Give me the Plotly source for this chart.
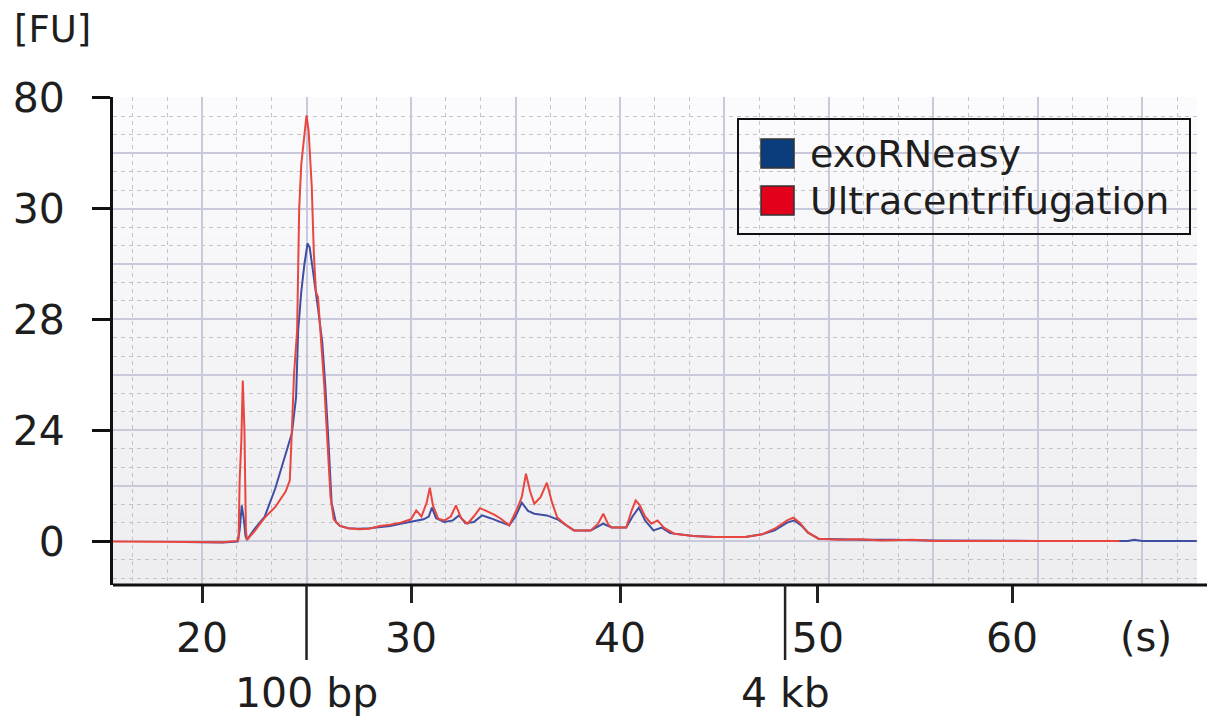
import plotly.graph_objects as go

# ---------------- data ----------------
series_names = ["exoRNeasy", "Ultracentrifugation"]

# migration time (s) and signal (plot units, 20 units per labelled tick)
blue_t = [19.2, 20.0, 21.0, 21.7, 21.8, 21.9, 22.0, 22.08, 22.15, 22.5, 23.0, 23.5, 24.0,
          24.3, 24.5, 24.6, 24.75, 24.9, 25.05, 25.15, 25.3, 25.45, 25.55, 25.75, 25.9,
          26.05, 26.2, 26.4, 26.6, 27.0, 27.5, 28.0, 28.5, 29.0, 29.5, 30.0, 30.3, 30.6,
          30.85, 31.0, 31.2, 31.6, 32.0, 32.3, 32.6, 33.0, 33.4, 33.8, 34.3, 34.7, 35.0,
          35.3, 35.6, 35.9, 36.5, 37.0, 37.4, 37.8, 38.6, 39.2, 39.6, 40.3, 40.6, 40.9,
          41.2, 41.6, 42.0, 42.4, 43.5, 44.5, 46.0, 46.8, 47.4, 48.0, 48.35, 48.7, 49.0,
          49.5, 50.5, 51.5, 53.0, 55.0, 60.0, 64.3, 64.6, 65.0, 67.6]
blue_v = [-0.1, -0.2, -0.2, 0.0, 2.0, 6.5, 4.0, 1.0, 0.3, 2.2, 4.5, 9.5, 15.5,
          19.5, 26.0, 38.0, 45.0, 50.0, 53.7, 53.0, 49.0, 45.3, 42.0, 36.0, 28.0,
          18.0, 7.0, 3.5, 2.8, 2.4, 2.3, 2.4, 2.6, 2.8, 3.2, 3.5, 3.8, 4.0,
          4.5, 6.1, 4.2, 3.5, 3.8, 4.7, 3.3, 3.5, 4.7, 4.2, 3.4, 2.9, 4.5,
          7.0, 5.5, 5.0, 4.7, 4.0, 3.0, 2.0, 2.0, 3.2, 2.5, 2.5, 4.5, 6.1,
          3.8, 2.0, 2.5, 1.5, 1.0, 0.8, 0.8, 1.3, 2.0, 3.4, 3.8, 2.8, 1.6,
          0.5, 0.4, 0.3, 0.3, 0.2, 0.1, 0.1, 0.3, 0.1, 0.1]

red_t = [15.74, 19.0, 19.3, 21.0, 21.7, 21.75, 21.8, 21.88, 21.95, 22.03, 22.1, 22.15,
         22.5, 23.0, 23.5, 24.0, 24.2, 24.3, 24.4, 24.55, 24.65, 24.75, 24.9, 25.0, 25.1,
         25.25, 25.35, 25.45, 25.55, 25.7, 25.85, 26.0, 26.15, 26.3, 26.6, 27.0, 27.5,
         28.0, 28.5, 29.0, 29.5, 30.0, 30.25, 30.5, 30.75, 30.9, 31.05, 31.3, 31.6, 31.9,
         32.15, 32.4, 32.7, 33.0, 33.3, 33.6, 34.0, 34.3, 34.7, 35.1, 35.3, 35.5, 35.7,
         35.9, 36.2, 36.5, 36.75, 37.0, 37.4, 37.8, 38.6, 38.95, 39.2, 39.45, 39.6, 40.3,
         40.55, 40.75, 40.95, 41.2, 41.5, 41.8, 42.1, 42.6, 43.5, 44.5, 46.0, 46.8, 47.4,
         48.0, 48.3, 48.6, 49.0, 49.5, 50.5, 51.5, 52.5, 54.0, 55.0, 57.0, 60.0, 63.9]
red_v = [0.0, 0.0, -0.1, -0.15, 0.1, 0.5, 11.0, 18.0, 29.0, 20.0, 2.0, 0.3,
         1.8, 4.3, 6.2, 9.0, 11.0, 20.0, 30.0, 38.0, 60.0, 68.0, 74.0, 76.8, 74.0,
         64.0, 52.0, 45.0, 44.0, 36.0, 28.0, 18.0, 8.0, 4.0, 2.8, 2.4, 2.2,
         2.3, 2.8, 3.0, 3.4, 4.0, 5.6, 4.5, 7.0, 9.7, 6.5, 4.1, 3.8, 4.5,
         6.5, 4.2, 3.2, 4.5, 6.0, 5.5, 4.8, 4.1, 2.9, 6.1, 8.0, 12.2, 9.0,
         6.8, 8.0, 10.6, 7.0, 4.3, 3.0, 2.0, 2.0, 3.2, 5.0, 3.0, 2.5, 2.5,
         5.5, 7.4, 6.5, 4.5, 3.2, 3.8, 2.5, 1.4, 1.0, 0.8, 0.8, 1.3, 2.3,
         3.8, 4.3, 3.4, 1.6, 0.5, 0.3, 0.4, 0.2, 0.3, 0.1, 0.1, 0.1, 0.1]

y_tick_vals = [0, 20, 40, 60, 80]
y_tick_text = ["0", "24", "28", "30", "80"]
x_tick_vals = [20, 30, 40, 49.47, 58.76]
x_tick_text = ["20", "30", "40", "50", "60"]
ladder_pos = [25.0, 47.9]
ladder_text = ["100 bp", "4 kb"]
y_unit = "[FU]"
x_unit = "(s)"

line_colors = ["#3d4ea3", "#e8463f"]
swatch_colors = ["#0b3d7c", "#e2001a"]

# ---------------- layout geometry ----------------
W_FIG, H_FIG = 1212, 722
L, R, T, B = 113, 1197, 97, 585
PW, PH = R - L, B - T
X_RANGE = [15.74, 67.61]
Y_RANGE = [-7.84, 80.09]
FONT = "DejaVu Sans"
TXT = "#1e1e1e"


def pxx(px):
    return (px - L) / PW


def pxy(py):
    return (B - py) / PH


fig = go.Figure()
# blue on the grid subplot, red on the overlaid (labelled) subplot, drawn on top
fig.add_trace(go.Scatter(x=blue_t, y=blue_v, mode="lines", name=series_names[0],
                         line=dict(color=line_colors[0], width=2), showlegend=False,
                         xaxis="x", yaxis="y"))
fig.add_trace(go.Scatter(x=red_t, y=red_v, mode="lines", name=series_names[1],
                         line=dict(color=line_colors[1], width=2), showlegend=False,
                         xaxis="x2", yaxis="y2"))

grid_solid = "#c8cadb"
grid_dash = "#c4c4c8"

shapes = []
n_bands = 14
for i in range(n_bands):
    f = i / (n_bands - 1)
    c0 = (251, 251, 253)
    c1 = (238, 238, 241)
    c = tuple(round(c0[k] + (c1[k] - c0[k]) * f) for k in range(3))
    shapes.append(dict(type="rect", xref="paper", yref="paper", layer="below",
                       x0=0, x1=1, y0=1 - (i + 1) / n_bands, y1=1 - i / n_bands,
                       fillcolor="rgb(%d,%d,%d)" % c, line=dict(width=0)))

shapes.append(dict(type="line", xref="paper", yref="paper", x0=0, x1=pxx(1207),
                   y0=0, y1=0, line=dict(color="#111111", width=3)))
for xp in ladder_pos:
    shapes.append(dict(type="line", xref="x", yref="paper", x0=xp, x1=xp,
                       y0=0, y1=pxy(660), line=dict(color="#222222", width=2.5)))
shapes.append(dict(type="rect", xref="paper", yref="paper",
                   x0=pxx(738), x1=pxx(1190), y0=pxy(234), y1=pxy(119),
                   line=dict(color="#111111", width=2), fillcolor="rgba(0,0,0,0)"))
legend_rows = [(139, 168), (186, 215)]
for (y0, y1), col in zip(legend_rows, swatch_colors):
    shapes.append(dict(type="rect", xref="paper", yref="paper",
                       x0=pxx(761), x1=pxx(794), y0=pxy(y1), y1=pxy(y0),
                       fillcolor=col, line=dict(color="#333333", width=1.5)))

annotations = []
for (y0, y1), name in zip(legend_rows, series_names):
    annotations.append(dict(text=name, xref="paper", yref="paper", x=pxx(808),
                            y=pxy((y0 + y1) / 2), xanchor="left", yanchor="middle",
                            showarrow=False, font=dict(family=FONT, size=38, color=TXT)))
for xp, txt in zip(ladder_pos, ladder_text):
    annotations.append(dict(text=txt, xref="x", yref="paper", x=xp, y=pxy(693),
                            xanchor="center", yanchor="middle", showarrow=False,
                            font=dict(family=FONT, size=41, color=TXT)))
annotations.append(dict(text=y_unit, xref="paper", yref="paper", x=pxx(52), y=pxy(30),
                        xanchor="center", yanchor="middle", showarrow=False,
                        font=dict(family=FONT, size=37, color=TXT)))
annotations.append(dict(text=x_unit, xref="paper", yref="paper", x=pxx(1146), y=pxy(637),
                        xanchor="center", yanchor="middle", showarrow=False,
                        font=dict(family=FONT, size=40, color=TXT)))

fig.update_layout(
    width=W_FIG, height=H_FIG,
    margin=dict(l=L, r=W_FIG - R, t=T, b=H_FIG - B, pad=0, autoexpand=False),
    paper_bgcolor="white", plot_bgcolor="#f4f4f6",
    showlegend=False,
    shapes=shapes, annotations=annotations,
    xaxis=dict(range=X_RANGE, showticklabels=False, ticks="", zeroline=False,
               tick0=0, dtick=5, showgrid=True, gridcolor=grid_solid, gridwidth=2,
               minor=dict(tick0=0, dtick=5 / 3, showgrid=True, gridcolor=grid_dash,
                          gridwidth=1, griddash="4px,4px", ticks=""),
               showline=False, fixedrange=True, automargin=False),
    yaxis=dict(range=Y_RANGE, showticklabels=False, ticks="", zeroline=False,
               tick0=0, dtick=10, showgrid=True, gridcolor=grid_solid, gridwidth=2,
               minor=dict(tick0=0, dtick=10 / 3, showgrid=True, gridcolor=grid_dash,
                          gridwidth=1, griddash="4px,4px", ticks=""),
               showline=False, fixedrange=True, automargin=False),
    xaxis2=dict(range=X_RANGE, overlaying="x", anchor="y2", side="bottom",
                tickmode="array", tickvals=x_tick_vals, ticktext=x_tick_text,
                ticks="outside", ticklen=17, tickwidth=2.5, tickcolor="#222222",
                ticklabelstandoff=0,
                tickfont=dict(family=FONT, size=41, color=TXT),
                showgrid=False, zeroline=False, showline=False, fixedrange=True,
                automargin=False),
    yaxis2=dict(range=Y_RANGE, overlaying="y", anchor="x2", side="left",
                tickmode="array", tickvals=y_tick_vals, ticktext=y_tick_text,
                ticks="outside", ticklen=18, tickwidth=3, tickcolor="#111111",
                ticklabelstandoff=19,
                tickfont=dict(family=FONT, size=41, color=TXT),
                showgrid=False, zeroline=False, showline=True, linecolor="#111111",
                linewidth=3, fixedrange=True, automargin=False),
)

fig.write_html("out.html")
